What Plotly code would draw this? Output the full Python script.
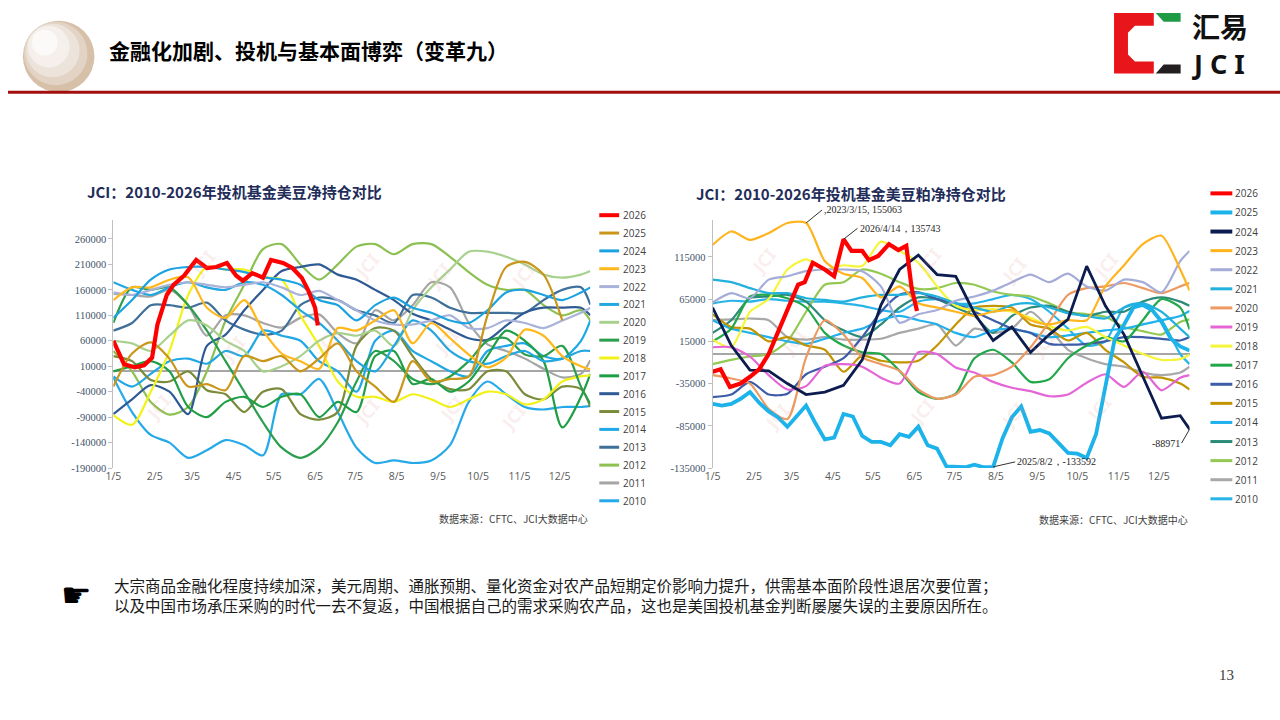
import plotly.graph_objects as go

W, H = 1280, 720
def px(x):
    return x / W
def py(y):
    return 1 - y / H

# ---------------- data ----------------
D = ["2021-01-05", "2021-01-19", "2021-02-02", "2021-02-16", "2021-03-02", "2021-03-16",
     "2021-03-30", "2021-04-13", "2021-04-27", "2021-05-11", "2021-05-25", "2021-06-08",
     "2021-06-22", "2021-07-06", "2021-07-20", "2021-08-03", "2021-08-17", "2021-08-31",
     "2021-09-14", "2021-09-28", "2021-10-12", "2021-10-26", "2021-11-09", "2021-11-23",
     "2021-12-07", "2021-12-21", "2021-12-28"]

WK = ["2021-01-05", "2021-01-12", "2021-01-19", "2021-01-26", "2021-02-02", "2021-02-09",
      "2021-02-16", "2021-02-23", "2021-03-02", "2021-03-09", "2021-03-16", "2021-03-23",
      "2021-03-30", "2021-04-06", "2021-04-13", "2021-04-20", "2021-04-27", "2021-05-04",
      "2021-05-11", "2021-05-18", "2021-05-25", "2021-06-01", "2021-06-08", "2021-06-15",
      "2021-06-22", "2021-06-29", "2021-07-06", "2021-07-13", "2021-07-20", "2021-07-27",
      "2021-08-03", "2021-08-10", "2021-08-17", "2021-08-24", "2021-08-31", "2021-09-07",
      "2021-09-14", "2021-09-21", "2021-09-28", "2021-10-05", "2021-10-12", "2021-10-19",
      "2021-10-26", "2021-11-02", "2021-11-09", "2021-11-16", "2021-11-23", "2021-11-30",
      "2021-12-07", "2021-12-14", "2021-12-21", "2021-12-28"]

X_TICKS = ["2021-01-05", "2021-02-05", "2021-03-05", "2021-04-05", "2021-05-05", "2021-06-05",
           "2021-07-05", "2021-08-05", "2021-09-05", "2021-10-05", "2021-11-05", "2021-12-05"]
X_LABELS = ["1/5", "2/5", "3/5", "4/5", "5/5", "6/5", "7/5", "8/5", "9/5", "10/5", "11/5", "12/5"]

L_YTICKS = [-190000, -140000, -90000, -40000, 10000, 60000, 110000, 160000, 210000, 260000]
R_YTICKS = [-135000, -85000, -35000, 15000, 65000, 115000]

YEARS = ["2026", "2025", "2024", "2023", "2022", "2021", "2020", "2019", "2018",
         "2017", "2016", "2015", "2014", "2013", "2012", "2011", "2010"]

# Left chart: US soybean speculative net position
L2026_X = ["2021-01-05", "2021-01-13", "2021-01-21", "2021-01-28", "2021-02-03", "2021-02-07",
           "2021-02-14", "2021-02-19", "2021-02-27", "2021-03-03", "2021-03-08", "2021-03-16",
           "2021-03-23", "2021-03-31", "2021-04-07", "2021-04-12", "2021-04-19", "2021-04-27",
           "2021-05-03", "2021-05-12", "2021-05-19", "2021-05-26", "2021-05-31", "2021-06-05",
           "2021-06-07"]
L2026 = [60000, 14000, 8000, 12000, 27000, 92000, 150000, 170000, 188000, 203000, 219000, 203000,
         205000, 213000, 188000, 178000, 193000, 184000, 219000, 213000, 203000, 184000, 158000,
         125000, 90000]
L2025 = [-30000, 35000, 57000, 25000, -30000, -25000, -37000, 30000, 20000, 30000, 0, 25000, 55000,
         0, -30000, -60000, 20000, -20000, -15000, -10000, 110000, 205000, 215000, 190000, 100000]
L2024 = [105000, 140000, 180000, 200000, 205000, 205000, 200000, 195000, 185000, 180000, 170000,
         140000, 130000, 100000, 130000, 145000, 125000, 115000, 100000, 95000, 120000, 155000,
         160000, 150000, 140000, 155000, 165000]
L2023 = [140000, 165000, 165000, 180000, 185000, 125000, 105000, 140000, 80000, 35000, 20000, 5000,
         85000, 80000, 100000, 120000, 55000, 95000, 65000, 33000, 8000, 27000, 82000, 70000, 30000,
         10000, 4000]
L2022 = [155000, 150000, 160000, 170000, 175000, 170000, 165000, 170000, 175000, 165000, 150000,
         158000, 140000, 120000, 100000, 92000, 92000, 100000, 110000, 85000, 85000, 100000, 95000,
         85000, 100000, 115000, 125000]
L2021 = [175000, 160000, 150000, 165000, 175000, 165000, 160000, 175000, 170000, 150000, 120000,
         95000, 60000, 20000, 0, 50000, 100000, 80000, 40000, 20000, 15000, 30000, 40000, 20000,
         25000, 40000, 40000]
L2020 = [60000, 55000, 40000, 70000, 100000, 90000, 60000, 40000, 0, 10000, 30000, 60000, 75000,
         70000, 80000, 50000, 120000, 165000, 200000, 235000, 235000, 225000, 210000, 190000,
         184000, 190000, 197000]
L2019 = [95000, 165000, 160000, 165000, 130000, 80000, 20000, -40000, -100000, -150000, -170000,
         -150000, -100000, -20000, 40000, 20000, -15000, -25000, -10000, 20000, 60000, 65000, 33000,
         30000, 50000, -30000, -64000]
L2018 = [-86000, -105000, -40000, 40000, 150000, 205000, 200000, 200000, 185000, 180000, 110000,
         50000, -20000, -50000, -50000, -60000, -45000, -55000, -70000, -55000, -40000, -45000,
         -65000, -55000, -20000, -10000, -8000]
L2017 = [0, 10000, 20000, 0, -70000, -90000, -60000, -50000, -70000, -50000, -45000, -90000,
         -60000, -80000, 30000, 40000, -25000, -15000, -40000, -20000, 30000, 80000, 60000, 20000,
         -110000, -50000, -5000]
L2016 = [-84000, -55000, -27000, -40000, -84000, 50000, 72000, 120000, 160000, 197000, 205000,
         210000, 190000, 180000, 160000, 140000, 113000, 100000, 82000, 65000, 62000, 90000, 115000,
         125000, 125000, 125000, 110000]
L2015 = [30000, 20000, -17000, -20000, 0, -37000, -45000, -80000, -40000, -35000, -84000, -95000,
         -80000, 50000, 85000, 80000, 30000, -15000, -35000, -35000, 0, 0, -45000, -55000, -30000,
         -35000, -70000]
L2014 = [-10000, -30000, -5000, 20000, 25000, 15000, 40000, 30000, 80000, 70000, 60000, 20000, 0,
         -40000, 60000, 80000, 40000, 20000, 0, -10000, 40000, 50000, 55000, 30000, 25000, 60000,
         100000]
L2013 = [80000, 95000, 130000, 130000, 125000, 135000, 100000, 82000, 72000, 80000, 130000, 145000,
         140000, 120000, 110000, 95000, 150000, 145000, 125000, 115000, 115000, 115000, 115000,
         140000, 160000, 165000, 131000]
L2012 = [40000, 0, -60000, -85000, -70000, 0, 100000, 170000, 240000, 250000, 210000, 180000,
         210000, 245000, 250000, 230000, 250000, 250000, 225000, 195000, 170000, 160000, 160000,
         130000, 110000, 120000, 100000]
L2011 = [152000, 150000, 147000, 160000, 130000, 70000, 110000, 110000, 95000, 86000, 105000,
         112000, 75000, 55000, 120000, 100000, 130000, 175000, 165000, 95000, 53000, 40000, 25000,
         5000, -12000, -5000, 22000]
L2010 = [-12000, -80000, -125000, -140000, -170000, -155000, -135000, -145000, -165000, -45000,
         -45000, -15000, -80000, -150000, -180000, -175000, -180000, -175000, -145000, -60000,
         -20000, -45000, -70000, -75000, -70000, -70000, -68000]

# Right chart: US soymeal speculative net position
R2026_X = ["2021-01-05", "2021-01-11", "2021-01-18", "2021-01-26", "2021-02-02", "2021-02-09",
           "2021-02-16", "2021-02-24", "2021-03-03", "2021-03-10", "2021-03-15", "2021-03-21",
           "2021-03-30", "2021-04-06", "2021-04-13", "2021-04-19", "2021-04-27", "2021-05-02",
           "2021-05-09", "2021-05-17", "2021-05-24", "2021-05-30", "2021-06-03", "2021-06-07"]
R2026 = [-21000, -18000, -39000, -35000, -27000, -18000, 0, 31000, 58000, 82000, 85000, 108000,
         100000, 92000, 135743, 122000, 122000, 111000, 116000, 130000, 123000, 128000, 78000, 51000]
R2025 = [-59000, -61000, -59000, -53000, -45000, -58000, -68000, -75000, -86000, -74000, -61000,
         -82000, -101000, -99000, -71000, -74000, -97000, -104000, -104000, -108000, -95000,
         -98000, -86000, -108000, -112000, -133000, -133000, -134000, -131000, -134000, -133592,
         -100000, -75000, -62000, -92000, -90000, -94000, -106000, -117000, -118000, -123000,
         -95000, -40000, 18000, 35000, 55000, 58000, 52000, 38000, 18000, 9000, 4000]
R2024 = [55000, 10000, -19000, -20000, -35000, -48000, -45000, -37000, -7000, 58000, 100000,
         117000, 94000, 92000, 48000, 16000, 32000, 2000, 23000, 41000, 104000, 57000, 23000,
         -27000, -76000, -73000, -88971]
R2023 = [129000, 145000, 135000, 143000, 155000, 155063, 110000, 95000, 90000, 67000, 80000,
         60000, 55000, 50000, 45000, 50000, 52000, 40000, 35000, 40000, 40000, 80000, 105000,
         130000, 140000, 100000, 75000]
R2022 = [61000, 72000, 66000, 88000, 92000, 98000, 100000, 100000, 98000, 80000, 37000, 47000,
         52000, 63000, 68000, 75000, 85000, 94000, 85000, 95000, 80000, 75000, 88000, 85000, 73000,
         110000, 122000]
R2021 = [88000, 85000, 78000, 72000, 72000, 66000, 64000, 62000, 67000, 70000, 70000, 72000,
         68000, 60000, 55000, 50000, 58000, 60000, 55000, 48000, 45000, 42000, 55000, 60000, 50000,
         30000, 20000]
R2020 = [-25000, -29000, -35000, -65000, -77000, -4000, 40000, 23000, -4000, -12000, -20000,
         -42000, -53000, -48000, -27000, -25000, -15000, 8000, 38000, 70000, 78000, 80000, 84000,
         78000, 72000, 80000, 84000]
R2019 = [8000, 8000, -3000, -25000, -42000, -38000, -14000, -12000, -15000, -28000, -35000, 2000,
         0, -16000, -22000, -33000, -40000, -44000, -50000, -48000, -34000, -24000, -39000, -21000,
         -43000, -28000, -25000]
R2018 = [17000, 8000, 50000, 65000, 100000, 112000, 100000, 105000, 104000, 133000, 122000,
         108000, 80000, 57000, 52000, 53000, 50000, 43000, 33000, 28000, 32000, 20000, 10000, 0,
         -7000, -6000, -1000]
R2017 = [15000, 30000, 68000, 70000, 66000, 55000, 25000, 10000, 2000, 0, -20000, -45000, -53000,
         -47000, -5000, 5000, -10000, -33000, -30000, -5000, 10000, 20000, 15000, 40000, 65000,
         55000, 29000]
R2016 = [-51000, -48000, -33000, -48000, -47000, -24000, -15000, -5000, 20000, 50000, 70000,
         73000, 65000, 60000, 50000, 40000, 30000, 25000, 12000, 11000, 12000, 15000, 20000, 20000,
         18000, 16000, 20000]
R2015 = [47000, 32000, 30000, 15000, 20000, 10000, 5000, -21000, -2000, -8000, -10000, -8000,
         10000, 35000, 55000, 57000, 55000, 35000, 30000, 16000, 25000, 5000, -10000, -27000,
         -28000, -35000, -42000]
R2014 = [40000, 30000, 25000, 20000, 15000, 12000, 18000, 25000, 30000, 40000, 45000, 40000,
         35000, 25000, 20000, 28000, 30000, 25000, 20000, 22000, 25000, 28000, 30000, 35000, 40000,
         45000, 51000]
R2013 = [25000, 40000, 66000, 68000, 70000, 62000, 40000, 28000, 20000, 35000, 55000, 67000,
         65000, 55000, 45000, 25000, 45000, 55000, 57000, 50000, 45000, 50000, 50000, 62000, 67000,
         62000, 57000]
R2012 = [-12000, -7000, -3000, 0, 15000, 50000, 82000, 85000, 100000, 95000, 85000, 77000, 78000,
         84000, 82000, 74000, 70000, 68000, 60000, 50000, 47000, 44000, 32000, 27000, 23000, 38000,
         41000]
R2011 = [40000, 41000, 42000, 40000, 20000, 17000, 20000, 17000, 17000, 18000, 25000, 30000,
         35000, 10000, 30000, 25000, 30000, 50000, 30000, 5000, -5000, -12000, -15000, -22000,
         -25000, -22000, -15000]
R2010 = [60000, 63000, 62000, 65000, 63000, 62000, 62000, 60000, 57000, 52000, 50000, 62000,
         65000, 60000, 60000, 65000, 70000, 65000, 50000, 30000, 10000, 15000, 55000, 60000, 40000,
         0, -12000]

L_COLORS = ["#ff0000", "#c9961a", "#1aa3e0", "#ffb81c", "#a9b3d9", "#22a7e0", "#a9d18e",
            "#2a9e4c", "#f2f21a", "#1f9f45", "#2f5b94", "#7a8b3b", "#1fa8e5", "#3f7099",
            "#8cc152", "#a5a5a5", "#26a9e8"]
R_COLORS = ["#ff0000", "#1cb2ea", "#0c1c4e", "#ffb41e", "#a5acd8", "#22b0dc", "#ec9a62",
            "#e466d6", "#f5f53a", "#22a84a", "#3b5ca6", "#c29400", "#1fb0ee", "#2b8a78",
            "#93c952", "#a8a8a8", "#28b4e8"]

LEFT = {"2026": (L2026_X, L2026), "2025": (D, L2025), "2024": (D, L2024), "2023": (D, L2023),
        "2022": (D, L2022), "2021": (D, L2021), "2020": (D, L2020), "2019": (D, L2019),
        "2018": (D, L2018), "2017": (D, L2017), "2016": (D, L2016), "2015": (D, L2015),
        "2014": (D, L2014), "2013": (D, L2013), "2012": (D, L2012), "2011": (D, L2011),
        "2010": (D, L2010)}
RIGHT = {"2026": (R2026_X, R2026), "2025": (WK, R2025), "2024": (D, R2024), "2023": (D, R2023),
         "2022": (D, R2022), "2021": (D, R2021), "2020": (D, R2020), "2019": (D, R2019),
         "2018": (D, R2018), "2017": (D, R2017), "2016": (D, R2016), "2015": (D, R2015),
         "2014": (D, R2014), "2013": (D, R2013), "2012": (D, R2012), "2011": (D, R2011),
         "2010": (D, R2010)}

fig = go.Figure()

# draw oldest first so 2026 ends up on top
for i in range(len(YEARS) - 1, -1, -1):
    yr = YEARS[i]
    xs, ys = LEFT[yr]
    linear = yr == "2026"
    fig.add_trace(go.Scatter(
        x=xs[:len(ys)], y=ys, mode="lines", name=yr, xaxis="x", yaxis="y", showlegend=False,
        line=dict(color=L_COLORS[i], width=4.2 if linear else 2.2,
                  shape="linear" if linear else "spline", smoothing=0.8),
        hoverinfo="skip"))
for i in range(len(YEARS) - 1, -1, -1):
    yr = YEARS[i]
    xs, ys = RIGHT[yr]
    linear = yr in ("2026", "2025", "2024")
    w = {"2026": 4.2, "2025": 3.8, "2024": 2.8}.get(yr, 2.2)
    fig.add_trace(go.Scatter(
        x=xs[:len(ys)], y=ys, mode="lines", name=yr, xaxis="x2", yaxis="y2", showlegend=False,
        line=dict(color=R_COLORS[i], width=w,
                  shape="linear" if linear else "spline", smoothing=0.7),
        hoverinfo="skip"))

xcommon = dict(type="date", range=["2021-01-05", "2021-12-28"], tickvals=X_TICKS,
               ticktext=X_LABELS, showline=False, showgrid=False, zeroline=False, ticks="",
               tickfont=dict(family="Open Sans", size=10.5, color="#595959"), fixedrange=True)
ycommon = dict(showline=True, linecolor="#bfbfbf", linewidth=1, ticks="outside", ticklen=4,
               tickcolor="#bfbfbf", showgrid=False, zeroline=True, zerolinecolor="#a6a6a6",
               zerolinewidth=1.5,
               tickfont=dict(family="Liberation Serif", size=10.5, color="#44546a"),
               fixedrange=True)

fig.update_layout(
    width=W, height=H, margin=dict(l=0, r=0, t=0, b=0),
    paper_bgcolor="white", plot_bgcolor="white", showlegend=False,
    xaxis=dict(domain=[px(106), px(586)], anchor="y", **xcommon),
    yaxis=dict(domain=[py(472), py(222)], anchor="x", range=[-190000, 297000],
               tickvals=L_YTICKS, ticktext=[str(v) for v in L_YTICKS], **ycommon),
    xaxis2=dict(domain=[px(709), px(1189)], anchor="y2", **xcommon),
    yaxis2=dict(domain=[py(472), py(222)], anchor="x2", range=[-135000, 158400],
                tickvals=R_YTICKS, ticktext=[str(v) for v in R_YTICKS], **ycommon),
)

shapes = []
ann = []
CJK = "Noto Sans CJK SC"

# header sphere (layered circles to imitate shading)
for cx, cy, r, col in [(51, 57, 36, "#d6c0a8"), (48, 54, 32, "#e2d3c4"), (45, 51, 27, "#ece3da"),
                       (41, 47, 21, "#f5f0eb"), (37, 43, 13, "#fcfaf8")]:
    shapes.append(dict(type="circle", xref="paper", yref="paper", x0=px(cx - r), x1=px(cx + r),
                       y0=py(cy + r), y1=py(cy - r), fillcolor=col, line=dict(width=0),
                       layer="below"))
# header rule
shapes.append(dict(type="line", xref="paper", yref="paper", x0=0, x1=1, y0=py(93), y1=py(93),
                   line=dict(color="#a30f0f", width=3)))

def poly(points, color):
    d = "M " + " L ".join(f"{px(x):.5f},{py(y):.5f}" for x, y in points) + " Z"
    return dict(type="path", xref="paper", yref="paper", path=d, fillcolor=color,
                line=dict(width=0))

shapes.append(poly([(1113, 13), (1153, 13), (1153, 26), (1134, 26), (1127, 33), (1127, 55),
                    (1134, 62), (1153, 62), (1153, 74), (1113, 74)], "#e8151b"))
shapes.append(poly([(1155, 13), (1180, 13), (1180, 22), (1163, 22)], "#1f9a45"))
shapes.append(poly([(1163, 65), (1180, 65), (1180, 74), (1155, 74)], "#231f20"))

ann.append(dict(x=px(1189), y=py(26), xref="paper", yref="paper", text="<b>汇易</b>",
                showarrow=False, xanchor="left", yanchor="middle",
                font=dict(family=CJK, size=28, color="#111111")))
ann.append(dict(x=px(1189), y=py(64), xref="paper", yref="paper", text="<b>J C I</b>",
                showarrow=False, xanchor="left", yanchor="middle",
                font=dict(family="Noto Sans", size=27, color="#111111")))
ann.append(dict(x=px(100), y=py(50), xref="paper", yref="paper",
                text="<b>金融化加剧、投机与基本面博弈（变革九）</b>", showarrow=False,
                xanchor="left", yanchor="middle", font=dict(family=CJK, size=21, color="#000000")))

# chart titles and sources
ann.append(dict(x=px(77), y=py(193), xref="paper", yref="paper",
                text="<b>JCI：2010-2026年投机基金美豆净持仓对比</b>", showarrow=False,
                xanchor="left", yanchor="middle", font=dict(family=CJK, size=15, color="#1f2d5a")))
ann.append(dict(x=px(690), y=py(195), xref="paper", yref="paper",
                text="<b>JCI：2010-2026年投机基金美豆粕净持仓对比</b>", showarrow=False,
                xanchor="left", yanchor="middle", font=dict(family=CJK, size=15, color="#1f2d5a")))
ann.append(dict(x=px(586), y=py(523), xref="paper", yref="paper",
                text="数据来源：CFTC、JCI大数据中心", showarrow=False, xanchor="right",
                yanchor="middle", font=dict(family=CJK, size=10, color="#404040")))
ann.append(dict(x=px(1189), y=py(524), xref="paper", yref="paper",
                text="数据来源：CFTC、JCI大数据中心", showarrow=False, xanchor="right",
                yanchor="middle", font=dict(family=CJK, size=10, color="#404040")))

# manual legends
for i, yr in enumerate(YEARS):
    yl = 217 + i * 18
    shapes.append(dict(type="line", xref="paper", yref="paper", x0=px(595), x1=px(615),
                       y0=py(yl), y1=py(yl),
                       line=dict(color=L_COLORS[i], width=4 if yr == "2026" else 3)))
    ann.append(dict(x=px(617), y=py(yl), xref="paper", yref="paper", text=yr, showarrow=False,
                    xanchor="left", yanchor="middle",
                    font=dict(family="Open Sans", size=10, color="#404040")))
    yr_ = 195 + i * 19.25
    shapes.append(dict(type="line", xref="paper", yref="paper", x0=px(1210), x1=px(1232),
                       y0=py(yr_), y1=py(yr_),
                       line=dict(color=R_COLORS[i], width=4 if yr in ("2026", "2025", "2024") else 3)))
    ann.append(dict(x=px(1233), y=py(yr_), xref="paper", yref="paper", text=yr, showarrow=False,
                    xanchor="left", yanchor="middle",
                    font=dict(family="Open Sans", size=10, color="#404040")))

# data call-outs on the right chart
afont = dict(family="Liberation Serif", size=10, color="#262626")
for xv, yv, txt, ax, ay, xa in [("2021-03-16", 155063, ",2023/3/15, 155063", 16, -13, "left"),
                                ("2021-04-13", 135743, "2026/4/14，135743", 14, -11, "left"),
                                ("2021-08-03", -133592, "2025/8/2，-133592", 22, -5, "left"),
                                ("2021-12-28", -88971, "-88971", -8, 14, "right")]:
    ann.append(dict(x=xv, y=yv, xref="x2", yref="y2", text=txt, showarrow=True, arrowhead=0,
                    arrowwidth=1, arrowcolor="#333333", ax=ax, ay=ay, xanchor=xa,
                    yanchor="middle", font=afont, standoff=0))

# faint watermarks
for wx, wy in [(175, 265), (340, 268), (433, 278), (518, 277), (205, 352), (300, 345),
               (420, 345), (130, 410), (340, 415), (425, 412), (508, 420),
               (760, 263), (873, 345), (947, 263), (773, 420), (940, 415), (1033, 272),
               (1125, 268), (1032, 418), (1118, 412), (1062, 347), (790, 345)]:
    ann.append(dict(x=px(wx), y=py(wy), xref="paper", yref="paper", text="<b>JCI</b>",
                    showarrow=False, textangle=-50,
                    font=dict(family="Noto Sans", size=18, color="rgba(225,150,150,0.18)")))

# bottom commentary
ann.append(dict(x=px(68), y=py(600), xref="paper", yref="paper", text="☛", showarrow=False,
                xanchor="center", yanchor="middle",
                font=dict(family="DejaVu Sans", size=34, color="#000000")))
ann.append(dict(x=px(105), y=py(600), xref="paper", yref="paper",
                text="大宗商品金融化程度持续加深，美元周期、通胀预期、量化资金对农产品短期定价影响力提升，供需基本面阶段性退居次要位置；"
                     "<br>以及中国市场承压采购的时代一去不复返，中国根据自己的需求采购农产品，这也是美国投机基金判断屡屡失误的主要原因所在。",
                showarrow=False, xanchor="left", yanchor="middle", align="left",
                font=dict(family=CJK, size=15.5, color="#1a1a1a")))
ann.append(dict(x=px(1226), y=py(681), xref="paper", yref="paper", text="13", showarrow=False,
                xanchor="center", yanchor="middle",
                font=dict(family="Liberation Serif", size=15, color="#404040")))

fig.update_layout(shapes=shapes, annotations=ann)

fig.write_html("out.html", config={"displayModeBar": False},
               post_script="document.body.style.margin='0px';")
